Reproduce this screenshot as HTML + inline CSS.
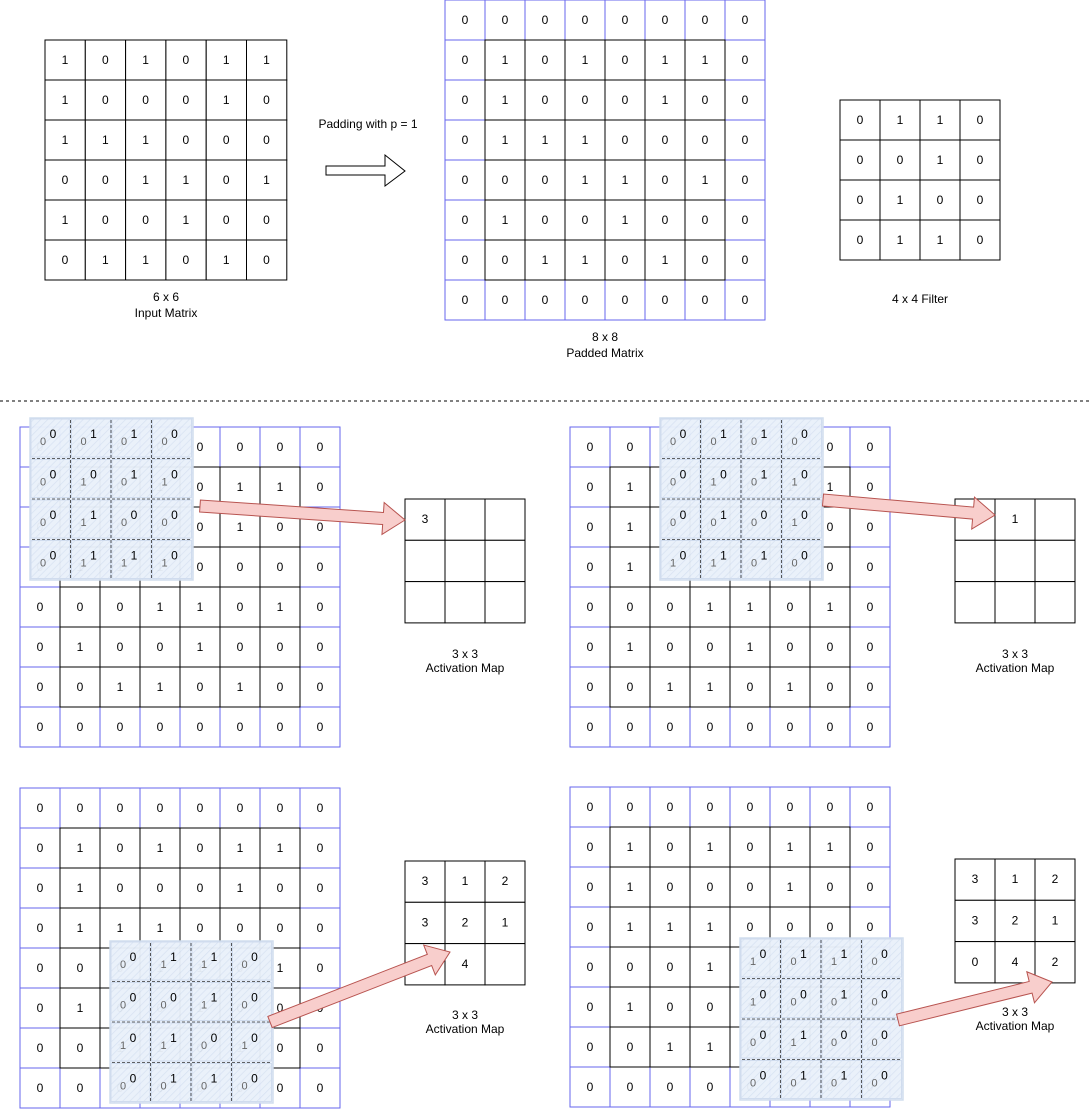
<!DOCTYPE html>
<html><head><meta charset="utf-8"><style>
html,body{margin:0;padding:0;background:#fff;}
svg{display:block;font-family:"Liberation Sans",Arial,sans-serif;}
</style></head><body>
<svg id="s" width="1092" height="1109" xmlns="http://www.w3.org/2000/svg">
<defs>
<pattern id="hatch" width="5" height="5" patternUnits="userSpaceOnUse" patternTransform="rotate(45)">
<rect width="5" height="5" fill="#eaf1fa"/><line x1="0" y1="0" x2="0" y2="5" stroke="#d6e2f2" stroke-width="1.5"/>
</pattern>
</defs>
</svg>
<script>
const S=document.getElementById('s');const NS='http://www.w3.org/2000/svg';
function el(t,a,txt){const e=document.createElementNS(NS,t);for(const k in a)e.setAttribute(k,a[k]);if(txt!==undefined)e.textContent=txt;S.appendChild(e);return e;}
function tx(x,y,s,size,anchor,fill){return el('text',{x:x,y:y,'font-size':size||12,'text-anchor':anchor||'middle','dominant-baseline':'middle',fill:fill||'#000'},s);}
const P=[[0,0,0,0,0,0,0,0],[0,1,0,1,0,1,1,0],[0,1,0,0,0,1,0,0],[0,1,1,1,0,0,0,0],[0,0,0,1,1,0,1,0],[0,1,0,0,1,0,0,0],[0,0,1,1,0,1,0,0],[0,0,0,0,0,0,0,0]];
const F=[[0,1,1,0],[0,0,1,0],[0,1,0,0],[0,1,1,0]];
function padded(x0,y0){
 for(let r=0;r<8;r++)for(let c=0;c<8;c++){
  const b=(r==0||r==7||c==0||c==7);
  if(b){el('rect',{x:x0+c*40,y:y0+r*40,width:40,height:40,fill:'#fff',stroke:'#6666ee','stroke-width':1});}
 }
 for(let r=1;r<7;r++)for(let c=1;c<7;c++)el('rect',{x:x0+c*40,y:y0+r*40,width:40,height:40,fill:'none',stroke:'#000','stroke-width':1});
 for(let r=0;r<8;r++)for(let c=0;c<8;c++)tx(x0+c*40+20,y0+r*40+21,P[r][c]);
}
function overlay(x0,y0,r0,c0){
 el('rect',{x:x0,y:y0,width:163,height:162,fill:'url(#hatch)',stroke:'#d0dcee','stroke-width':1.5,opacity:0.96});
 for(let i=0;i<4;i++)for(let j=0;j<4;j++){
  const cx=x0+j*40.5, cy=y0+i*40.5;
  el('rect',{x:cx+1,y:cy+1,width:39,height:38,fill:'none',stroke:'#d0dcee','stroke-width':1});
  tx(cx+13,cy+24,P[r0+i][c0+j],11,'middle','#666');
  tx(cx+23,cy+17,F[i][j],12,'middle','#000');
 }
 for(let i=1;i<4;i++){el('line',{x1:x0+i*40.5,y1:y0+2,x2:x0+i*40.5,y2:y0+160,stroke:'#333','stroke-dasharray':'3,2','stroke-width':0.8});
  el('line',{x1:x0+2,y1:y0+i*40.5,x2:x0+161,y2:y0+i*40.5,stroke:'#333','stroke-dasharray':'3,2','stroke-width':0.8});}
}
function amap(x0,y0,vals){
 for(let r=0;r<3;r++)for(let c=0;c<3;c++){el('rect',{x:x0+c*40,y:y0+r*41.3,width:40,height:41.3,fill:'#fff',stroke:'#000'});
  const v=vals[r][c]; if(v!=='')tx(x0+c*40+20,y0+r*41.3+21,v);}
}
function arrow(x1,y1,x2,y2){
 const dx=x2-x1,dy=y2-y1,L=Math.hypot(dx,dy),ux=dx/L,uy=dy/L,nx=-uy,ny=ux;
 const bw=6,hw=16,hl=22;const bx=x2-ux*hl,by=y2-uy*hl;
 const pts=[[x1+nx*bw,y1+ny*bw],[bx+nx*bw,by+ny*bw],[bx+nx*hw,by+ny*hw],[x2,y2],[bx-nx*hw,by-ny*hw],[bx-nx*bw,by-ny*bw],[x1-nx*bw,y1-ny*bw]];
 el('polygon',{points:pts.map(p=>p.join(',')).join(' '),fill:'#f8cecc',stroke:'#b85450','stroke-width':1});
}
const I=[[1,0,1,0,1,1],[1,0,0,0,1,0],[1,1,1,0,0,0],[0,0,1,1,0,1],[1,0,0,1,0,0],[0,1,1,0,1,0]];
for(let r=0;r<6;r++)for(let c=0;c<6;c++){el('rect',{x:45+c*40.3,y:40+r*40,width:40.3,height:40,fill:'#fff',stroke:'#000'});tx(45+c*40.3+20,40+r*40+21,I[r][c]);}
tx(166,298,'6 x 6');tx(166,314,'Input Matrix');
tx(368,125,'Padding with p = 1');
el('polygon',{points:'326,166 385,166 385,155 405,171 385,186 385,175 326,175',fill:'#fff',stroke:'#000'});
padded(445,0);
tx(605,338,'8 x 8');tx(605,354,'Padded Matrix');
for(let r=0;r<4;r++)for(let c=0;c<4;c++){el('rect',{x:840+c*40,y:100+r*40,width:40,height:40,fill:'#fff',stroke:'#000'});tx(860+c*40,121+r*40,F[r][c]);}
tx(920,300,'4 x 4 Filter');
el('line',{x1:0,y1:401,x2:1092,y2:401,stroke:'#000','stroke-dasharray':'3,3'});
padded(20,427);overlay(30,418,0,0);
amap(405,499,[['','',''],['','',''],['','','']]);tx(425,520,'3');
arrow(200,506,405,520);
tx(465,655,'3 x 3');tx(465,669,'Activation Map');
padded(570,427);overlay(660,418,0,2);
amap(955,499,[['','1',''],['','',''],['','','']]);
arrow(823,500,995,515);
tx(1015,655,'3 x 3');tx(1015,669,'Activation Map');
padded(20,788);overlay(110,941,4,2);
amap(405,861,[['3','1','2'],['3','2','1'],['0','4','']]);
arrow(270,1022,450,952);
tx(465,1016,'3 x 3');tx(465,1030,'Activation Map');
padded(570,787);overlay(740,938,4,4);
amap(955,859,[['3','1','2'],['3','2','1'],['0','4','2']]);
arrow(898,1020,1052,982);
tx(1015,1013,'3 x 3');tx(1015,1027,'Activation Map');
</script>
</body></html>
